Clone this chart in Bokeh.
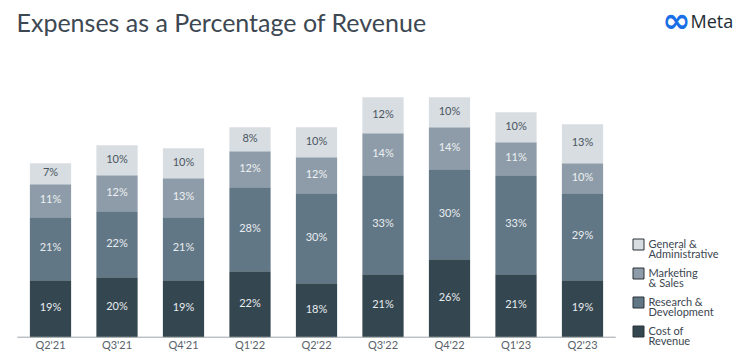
from bokeh.plotting import figure
from bokeh.models import ColumnDataSource, Range1d
from bokeh.core.properties import value
from bokeh.embed import file_html
from bokeh.resources import INLINE

quarters = ["Q2'21", "Q3'21", "Q4'21", "Q1'22", "Q2'22", "Q3'22", "Q4'22", "Q1'23", "Q2'23"]
cost_of_revenue = [19, 20, 19, 22, 18, 21, 26, 21, 19]
research_dev = [21, 22, 21, 28, 30, 33, 30, 33, 29]
marketing_sales = [11, 12, 13, 12, 12, 14, 14, 11, 10]
general_admin = [7, 10, 10, 8, 10, 12, 10, 10, 13]

series_names = ["Cost of\nRevenue", "Research &\nDevelopment", "Marketing\n& Sales", "General &\nAdministrative"]
series_values = [cost_of_revenue, research_dev, marketing_sales, general_admin]
colors = ["#34464f", "#627786", "#8d9ca8", "#d8dde2"]
label_colors = ["#e8ecef", "#e8ecef", "#eef1f3", "#4a5560"]

W, H = 740, 359
FONT = "Lato"

x = list(range(len(quarters)))
px_per_x = 66.5
x0_px = 50.0
px_per_y = 3.0
base_px = 336.7


def dx(px):
    return (px - x0_px) / px_per_x


def dy(py):
    return (base_px - py) / px_per_y


p = figure(width=W, height=H, output_backend="svg", toolbar_location=None,
           x_range=Range1d(dx(0), dx(W)), y_range=Range1d(dy(H), dy(0)),
           min_border=0, min_border_left=0, min_border_right=0,
           min_border_top=0, min_border_bottom=0)
p.axis.visible = False
p.grid.visible = False
p.outline_line_color = None
p.background_fill_color = "white"
p.border_fill_color = "white"

bottom = [0] * len(quarters)
for name, vals, col, lcol in zip(series_names, series_values, colors, label_colors):
    top = [b + v for b, v in zip(bottom, vals)]
    mid = [(b + t) / 2 for b, t in zip(bottom, top)]
    src = ColumnDataSource(dict(x=x, bottom=bottom, top=top, mid=mid,
                                lab=[f"{v}%" for v in vals]))
    p.vbar(x="x", bottom="bottom", top="top", width=0.62, source=src,
           fill_color=col, line_color=None)
    p.text(x="x", y="mid", text="lab", source=src, text_align="center",
           text_baseline="middle", y_offset=-2, text_font=value(FONT), text_font_size="11px",
           text_color=lcol)
    bottom = top

# baseline
p.segment(x0=[x[0] - 0.5], y0=[0], x1=[x[-1] + 0.5], y1=[0], line_color="#a0a4a8", line_width=1)
# category labels
p.text(x=x, y=[0] * len(x), text=quarters, text_align="center", text_baseline="middle",
       y_offset=7, text_font=value(FONT), text_font_size="11px", text_color="#5a636b")

# legend (top entry = General & Administrative)
leg_names = list(reversed(series_names))
leg_colors = list(reversed(colors))
leg_y = [244 + 29 * k for k in range(len(leg_names))]
p.scatter(x=[dx(638)] * len(leg_names), y=[dy(v) for v in leg_y], marker="square", size=11,
          fill_color=leg_colors, line_color="#2b3238", line_width=1)
p.text(x=[dx(648)] * len(leg_names), y=[dy(v - 7.5) for v in leg_y], text=leg_names,
       text_align="left", text_baseline="top", text_font=value(FONT), text_font_size="11px",
       text_line_height=0.8, text_color="#3c4650")

# title and logo
p.text(x=[dx(16)], y=[dy(21.5)], text=["Expenses as a Percentage of Revenue"],
       text_baseline="middle", text_font=value(FONT), text_font_size="25px",
       text_color="#3d4852")
p.text(x=[dx(676)], y=[dy(19.5)], text=["∞"], text_align="center", text_baseline="middle",
       text_font=value("DejaVu Sans"), text_font_size="34px", text_font_style="bold",
       text_color="#1a6fe6")
p.text(x=[dx(690)], y=[dy(20.5)], text=["Meta"], text_baseline="middle",
       text_font=value("Open Sans"), text_font_size="18px", text_color="#1c2b33")

open("out.html", "w").write(file_html(p, INLINE))
